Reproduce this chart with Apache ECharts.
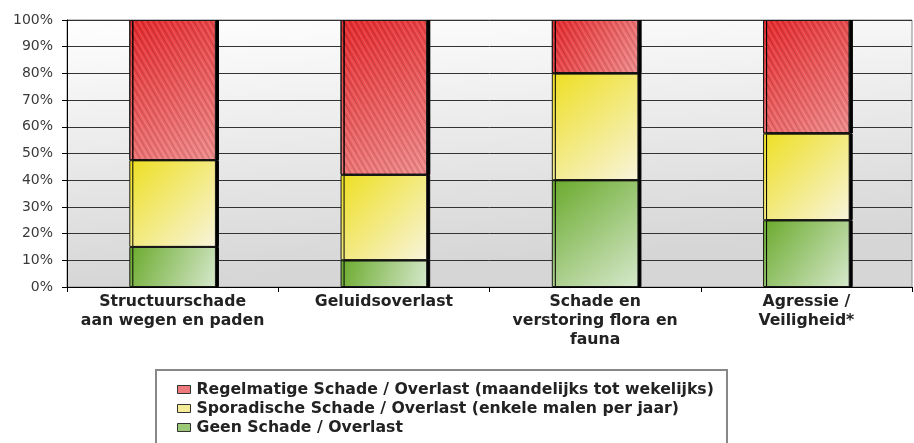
<!DOCTYPE html>
<html>
<head>
<meta charset="utf-8">
<script src="https://cdn.jsdelivr.net/npm/echarts@6/dist/echarts.min.js"></script>
<style>
  html, body { margin: 0; padding: 0; background: #fff; }
  #main { width: 914px; height: 443px; }
</style>
</head>
<body>
<div id="main"></div>
<script>
var categories = [
  'Structuurschade\naan wegen en paden',
  'Geluidsoverlast',
  'Schade en\nverstoring flora en\nfauna',
  'Agressie /\nVeiligheid*'
];
var seriesNames = [
  'Regelmatige Schade / Overlast (maandelijks tot wekelijks)',
  'Sporadische Schade / Overlast (enkele malen per jaar)',
  'Geen Schade / Overlast'
];
var geen = [15, 10, 40, 25];
var sporadisch = [32.5, 32, 40, 32.5];
var regelmatig = [52.5, 58, 20, 42.5];

function grad(c1, c2) {
  return new echarts.graphic.LinearGradient(0, 0, 1, 1, [
    { offset: 0, color: c1 },
    { offset: 1, color: c2 }
  ]);
}

var barStyle = {
  borderColor: '#1a1a1a',
  borderWidth: 1,
  shadowColor: '#000',
  shadowOffsetX: 3,
  shadowOffsetY: 0,
  shadowBlur: 0
};

var myChart = echarts.init(document.getElementById('main'));

var option = {
  animation: false,
  grid: {
    left: 67, right: 2, top: 20, bottom: 156,
    show: true,
    borderColor: '#888',
    borderWidth: 1,
    backgroundColor: new echarts.graphic.LinearGradient(0, 0, 0.02, 1, [
      { offset: 0, color: '#ffffff' },
      { offset: 1, color: '#d6d6d6' }
    ])
  },
  legend: {
    orient: 'vertical',
    left: 172,
    top: 375,
    itemWidth: 13,
    itemHeight: 8,
    itemGap: 0,
    icon: 'rect',
    data: [
      { name: seriesNames[0], itemStyle: { color: '#ec7a7c', borderColor: '#333', borderWidth: 1, decal: 'none' } },
      { name: seriesNames[1], itemStyle: { color: '#f4ec98', borderColor: '#333', borderWidth: 1 } },
      { name: seriesNames[2], itemStyle: { color: '#9cc978', borderColor: '#333', borderWidth: 1 } }
    ],
    textStyle: {
      fontFamily: 'DejaVu Sans',
      fontWeight: 'bold',
      fontSize: 15.7,
      lineHeight: 19,
      color: '#222',
      padding: [0, 0, 0, 1]
    }
  },
  graphic: [{
    type: 'rect',
    shape: { x: 156, y: 370, width: 571, height: 100 },
    style: { fill: 'none', stroke: '#888', lineWidth: 2 }
  }],
  xAxis: {
    type: 'category',
    data: categories,
    axisLine: { lineStyle: { color: '#000', width: 1 } },
    axisTick: { show: true, length: 5, lineStyle: { color: '#000' } },
    axisLabel: {
      interval: 0,
      margin: 5,
      fontFamily: 'DejaVu Sans',
      fontWeight: 'bold',
      fontSize: 15.7,
      lineHeight: 19,
      color: '#222'
    }
  },
  yAxis: {
    type: 'value',
    min: 0,
    max: 100,
    interval: 10,
    axisLine: { show: true, lineStyle: { color: '#000' } },
    axisTick: { show: true, length: 5, lineStyle: { color: '#000' } },
    splitLine: { lineStyle: { color: '#333', width: 1 } },
    axisLabel: {
      formatter: '{value}%',
      margin: 14,
      fontFamily: 'DejaVu Sans',
      fontSize: 14,
      color: '#3a3a3a'
    }
  },
  series: [
    {
      name: seriesNames[2],
      type: 'bar',
      stack: 'total',
      barWidth: '41%',
      data: geen,
      itemStyle: Object.assign({ color: grad('#6aaa2c', '#d6e8cc') }, barStyle)
    },
    {
      name: seriesNames[1],
      type: 'bar',
      stack: 'total',
      data: sporadisch,
      itemStyle: Object.assign({ color: grad('#eedf22', '#f8f4dc') }, barStyle)
    },
    {
      name: seriesNames[0],
      type: 'bar',
      stack: 'total',
      data: regelmatig,
      itemStyle: Object.assign({
        color: grad('#e6272b', '#f08c8c'),
        decal: {
          symbol: 'rect',
          symbolSize: 1,
          dashArrayX: [1, 0],
          dashArrayY: [1, 4],
          rotation: Math.PI / 3,
          color: 'rgba(255,255,255,0.15)'
        }
      }, barStyle)
    }
  ]
};

myChart.setOption(option);
</script>
</body>
</html>
